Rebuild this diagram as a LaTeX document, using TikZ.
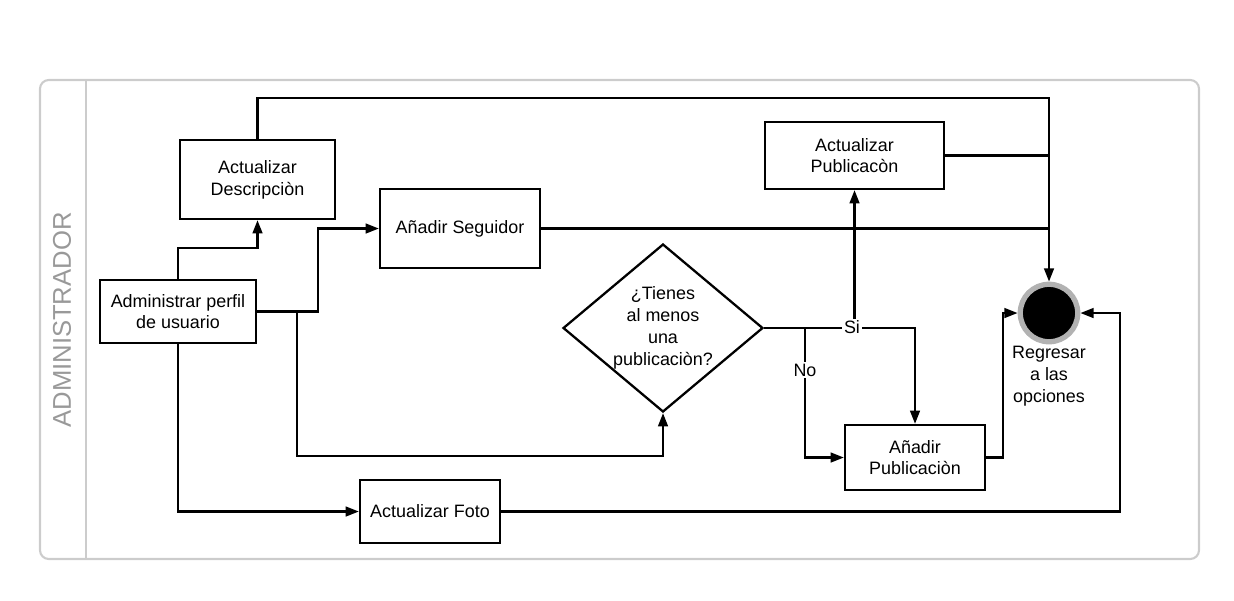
\documentclass[tikz,border=0pt]{standalone}
\usepackage{fontspec}
\setmainfont{Liberation Sans}
\usepackage{tikz}
\usetikzlibrary{arrows.meta,positioning,shapes.geometric}

\begin{document}
\begin{tikzpicture}[x=0.02cm, y=-0.02cm,
    every node/.style={font=\fontsize{10.2}{12.4}\selectfont, align=center},
    act/.style={draw, line width=1.3pt, minimum width=#1},
    flow/.style={line width=1.3pt, -{Triangle[length=7.5pt,width=5.5pt]}},
    link/.style={line width=1.3pt}]
    \useasboundingbox (0,0) rectangle (1234,600);

    % Swimlane
    \draw[gray!40, line width=1.2pt, rounded corners=5pt] (40,80) rectangle (1199,559);
    \draw[gray!40, line width=1.2pt] (86,80) -- (86,559);
    \node[rotate=90, text=gray!80, font=\fontsize{14.6}{16}\selectfont] (lane) at (62,320) {ADMINISTRADOR};

    % Activities
    \node[act=3.12cm, minimum height=1.26cm] (admin) at (178,311.5) {Administrar perfil\\de usuario};
    \node[act=3.1cm, minimum height=1.58cm] (desc) at (257.5,179.5) {Actualizar\\Descripciòn};
    \node[act=3.2cm, minimum height=1.58cm] (seg) at (460,228.5) {Añadir Seguidor};
    \node[act=2.8cm, minimum height=1.26cm] (foto) at (430,511.5) {Actualizar Foto};
    \node[act=3.58cm, minimum height=1.34cm] (apub) at (854.5,155.5) {Actualizar\\Publicacòn};
    \node[act=2.8cm, minimum height=1.3cm] (npub) at (915,457.5) {Añadir\\Publicaciòn};
    \node[diamond, aspect=1.19, draw, line width=1.3pt, inner sep=0pt, minimum width=4.0cm, minimum height=3.36cm] (q) at (663,328) {¿Tienes\\al menos\\una\\publicaciòn?};

    % End
    \node[circle, fill=black, draw=gray!60, line width=3pt, minimum size=1.15cm] (fin) at (1049,313) {};
    \node[below=-2.5pt of fin] (finlbl) {Regresar\\a las\\opciones};

    % Flows from the profile
    \draw[flow] (admin.north) -- ++(0,-31) -| (desc.south);
    \draw[flow] (admin.east) -- ++(61,0) |- (seg.west);
    \coordinate (sp) at (297,311.5);
    \draw[flow] (sp) -- ++(0,144.5) -| (q.south);
    \draw[flow] (admin.south) |- (foto.west);

    % Flows to the end
    \draw[flow] (desc.north) -- ++(0,-41) -| (fin.north);
    \draw[link] (apub.east) -- (apub.east -| fin.north);
    \draw[link] (seg.east) -- (seg.east -| fin.north);
    \draw[flow] (foto.east) -- ++(619,0) |- (fin.east);
    \draw[flow] (npub.east) -- ++(17,0) |- (fin.west);

    % Decision
    \draw[flow] (q.east) -| (npub.north);
    \draw[flow] (q.east -| apub.south) -- (apub.south);
    \coordinate (nb) at (805,328);
    \draw[flow] (nb) |- (npub.west);
    \node[fill=white, inner sep=1pt] (si) at (852,327) {Si};
    \node[fill=white, inner sep=1pt] (no) at (805,370) {No};
\end{tikzpicture}
\end{document}
